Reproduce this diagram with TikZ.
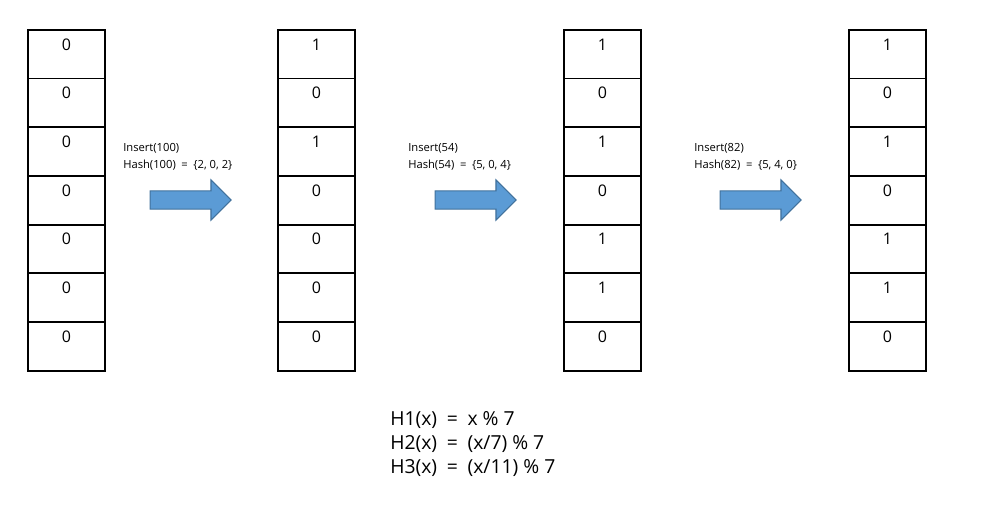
\documentclass[tikz,border=0pt]{standalone}
\usepackage{fontspec}
\setmainfont{Open Sans}
\usetikzlibrary{shapes.arrows}
\definecolor{arrowfill}{HTML}{5B9BD5}
\definecolor{arrowedge}{HTML}{41719C}

\begin{document}
\begin{tikzpicture}[x=0.75pt,y=-0.75pt,cell/.style={draw, line width=1.3pt, minimum width=57.75pt, minimum height=36.53pt, anchor=north west, inner sep=0pt},bit/.style={anchor=north, yshift=-7pt, inner sep=0pt, font=\fontsize{12}{14}\selectfont},bigarrow/.style={single arrow, draw=arrowedge, fill=arrowfill, line width=0.8pt, minimum height=60.75pt, inner xsep=0pt, inner ysep=6.4pt, single arrow head extend=8.25pt, single arrow head indent=0pt, single arrow tip angle=90},oplabel/.style={anchor=north west, align=left, inner sep=0pt, font=\fontsize{8.4}{12.75}\selectfont},formula/.style={anchor=north west, align=left, inner sep=0pt, font=\fontsize{14.5}{18}\selectfont}]
\useasboundingbox (0,0) rectangle (986,513);
% bit arrays
\foreach \v [count=\i from 0] in {0,0,0,0,0,0,0} \node[cell, label={[bit]north:\v}] (a\i) at (27,{29+48.7*\i}) {};
\foreach \v [count=\i from 0] in {1,0,1,0,0,0,0} \node[cell, label={[bit]north:\v}] (b\i) at (277,{29+48.7*\i}) {};
\foreach \v [count=\i from 0] in {1,0,1,0,1,1,0} \node[cell, label={[bit]north:\v}] (c\i) at (563,{29+48.7*\i}) {};
\foreach \v [count=\i from 0] in {1,0,1,0,1,1,0} \node[cell, label={[bit]north:\v}] (d\i) at (848,{29+48.7*\i}) {};
% insert steps
\node[bigarrow] (ar1) at (186,200) {}; \node[oplabel] (op1) at (123,143) {Insert(100)\\Hash(100)\enspace=\enspace\{2, 0, 2\}};
\node[bigarrow] (ar2) at (471,200) {}; \node[oplabel] (op2) at (408,143) {Insert(54)\\Hash(54)\enspace=\enspace\{5, 0, 4\}};
\node[bigarrow] (ar3) at (756,200) {}; \node[oplabel] (op3) at (694,143) {Insert(82)\\Hash(82)\enspace=\enspace\{5, 4, 0\}};
\node[formula] (hash) at (390,411) {H1(x)\enspace=\enspace x \% 7\\H2(x)\enspace=\enspace(x/7) \% 7\\H3(x)\enspace=\enspace(x/11) \% 7};
\end{tikzpicture}
\end{document}
